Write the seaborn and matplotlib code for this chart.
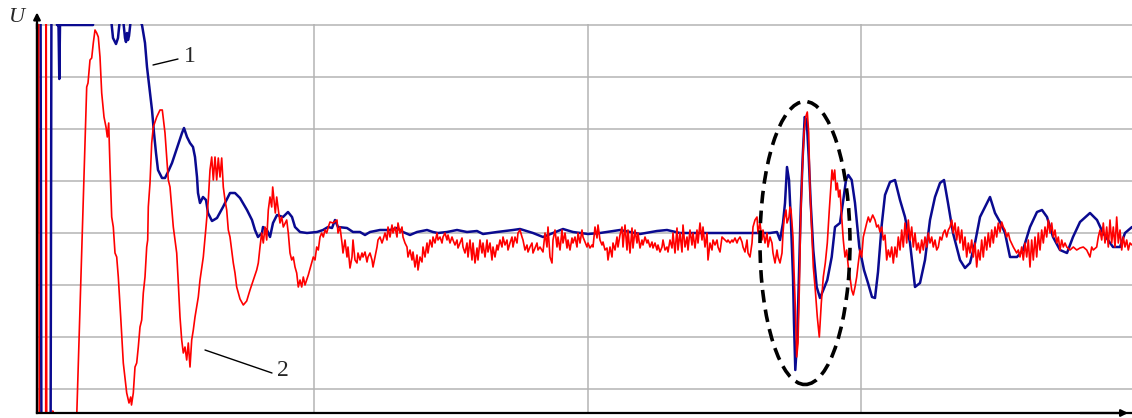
import numpy as np
import pandas as pd
import matplotlib
matplotlib.use('Agg')
import matplotlib.pyplot as plt
import seaborn as sns
from matplotlib.patches import Ellipse

# digitised signals: (time, U) pairs, U measured from the settled level,
# one grid division = 52 units
blue_transient = [
    (37, 0), (38, 260), (40.5, 260), (41.5, -260), (50.5, -260), (51.5, 260),
    (56, 260), (57, 208), (58.5, 208), (59.3, 154), (60, 208), (93, 208),
    (94, 260), (109, 260), (111, 215), (113, 195), (116, 189), (118, 195),
    (120, 215), (123, 215), (125, 195), (126, 191), (127, 200), (128, 193),
    (129, 197), (131, 215), (139, 215), (142, 208), (145, 190), (147, 166),
    (150, 140), (152, 123), (154, 100), (156, 80), (158, 63), (162, 55),
    (165, 55), (168, 61), (172, 70), (177, 85), (182, 100), (184, 105),
    (187, 96), (190, 90), (193, 86), (195, 76), (197, 56), (198, 40),
    (200, 30), (203, 36), (206, 33), (208, 20), (212, 12), (217, 15),
    (223, 26), (230, 40), (235, 40), (240, 35), (247, 23), (252, 13),
    (255, 3), (258, -4), (262, 0), (263, 6), (267, 3), (270, -4), (273, 10),
    (277, 18), (283, 16), (288, 21), (292, 16), (295, 6), (300, 1),
]
blue_quiet = [
    (307, 0), (317, 1), (323, 3), (328, 6), (332, 5), (335, 13), (338, 6),
    (347, 5), (353, 1), (360, 1), (365, -2), (370, 1), (380, 3), (390, 3),
    (397, 5), (403, 1), (410, -2), (417, 1), (427, 3), (433, 1), (438, 0),
    (447, 1), (457, 3), (467, 1), (477, 2), (483, -1), (497, 1), (513, 3),
    (520, 4), (533, 0), (543, -4), (553, 0), (563, 4), (573, 1), (588, -1),
    (600, 0), (620, 3), (640, -1), (657, 2), (667, 3), (680, 0), (707, 0),
    (727, 0), (747, 0), (770, 0), (777, 1),
]
blue_burst = [
    (780, -7), (783, 10), (785, 30), (787, 66), (789, 53), (791, 10),
    (793, -44), (794, -90), (795.3, -137), (797.3, -104), (799.3, -30),
    (800.7, 23), (802.7, 76), (804.7, 116), (806.7, 113), (808.7, 76),
    (810.7, 30), (813.3, -17), (816.7, -54), (820, -65), (823.3, -57),
    (827.3, -47), (831.7, -24), (835, 6), (840, 10), (843.3, 33), (846, 53),
    (848.3, 58), (851.7, 53), (855, 30), (859.3, -14), (864, -37),
    (868, -50), (872, -64), (875, -65), (878, -39), (881.7, 8), (885, 38),
]
blue_tail = [
    (890, 51), (895, 53), (900, 33), (905, 16), (910, -10), (915, -54),
    (920, -50), (925, -27), (930, 13), (935, 36), (940, 50), (944, 53),
    (948, 30), (953, 0), (960, -27), (965, -35), (970, -30), (975, -10),
    (980, 16), (985, 26), (990, 36), (995, 20), (1000, 11), (1005, 0),
    (1010, -24), (1017, -24), (1023, -17), (1030, 6), (1037, 21), (1042, 23),
    (1047, 16), (1053, -4), (1060, -17), (1067, -20), (1073, -4), (1080, 11),
    (1090, 20), (1097, 13), (1103, 0), (1113, -14), (1120, -14), (1125, 0),
    (1132, 6),
]

red_transient = [
    (36.8, -12), (37.6, 260), (38.6, 260), (39.4, -260), (45.6, -260),
    (46.2, 260), (46.8, -260), (52.3, -260), (52.8, -178), (53.3, -260),
    (76, -260), (76.7, -184), (86.7, 146), (88, 150), (90, 173), (91.7, 175),
    (93.3, 190), (95, 203), (96.7, 200), (98.3, 196), (100, 176),
    (101.7, 140), (104, 116), (106, 106), (107.3, 96), (108.7, 110),
    (110, 66), (111.7, 16), (113.3, 6), (115, -20), (116.7, -24),
    (118.3, -44), (120.7, -84), (123.3, -130), (126.7, -160), (129, -170),
    (130.7, -164), (131.5, -172), (133.3, -160), (135, -134), (136.7, -130),
    (138.3, -114), (140, -94), (141.7, -87), (143.3, -60), (145, -44),
    (146.7, -14), (147.7, -7), (148.3, 26), (150, 50), (151.7, 90),
    (153.3, 106), (156.7, 116), (160, 123), (162.3, 123), (165, 100),
    (166.7, 76), (168.3, 53), (170, 46), (173.3, 6), (176.7, -20),
    (178.3, -50), (180, -84), (181.7, -107), (183.3, -120), (185, -114),
    (186.7, -127), (188.3, -110), (190, -134), (191.7, -107), (193.3, -97),
    (195, -84), (198.3, -64), (200, -47), (203.3, -24), (206, 6),
    (208.3, 33), (210, 63), (211.7, 76), (213.3, 53), (215, 76),
    (216.7, 53), (218.3, 75), (220, 56), (221.7, 75), (223.3, 46),
    (225, 33), (226.7, 23), (228.3, 3), (230, -4), (231.7, -17),
    (233.3, -30), (235, -40), (236.7, -54), (238.3, -60), (240, -66),
    (243.3, -72), (246.7, -68), (250, -57), (253.3, -47), (256.7, -37),
    (258.3, -30), (260, -14), (261.7, 0), (263.3, -10), (265, 6),
    (266.7, -7), (268.3, 23), (270, 36), (271.7, 26), (272.7, 46),
    (274, 33), (275.3, 20), (276.7, 36), (278.3, 23), (280, 10),
    (281.7, 16), (283.3, 6), (286.7, 13), (288.3, 0), (290, -20),
    (291.7, -27), (293.3, -24), (295, -34), (296.7, -40), (298.3, -54),
    (300, -47), (301.7, -54), (303.3, -44), (305, -52), (306.7, -47),
    (308.3, -42), (311.7, -30), (313.3, -24), (315, -27), (316.7, -14),
    (318.3, -17), (320, -4), (321.7, 0), (323.3, -4), (325, 3),
    (326.7, 0), (328.3, 6),
]
red_noise_a = [
    (330, 11), (333, 10), (337, 13), (338, 0), (340, 6), (342, -10),
    (343, -20), (345, -7), (347, -24), (348, -14), (350, -35), (352, -24),
    (353, -7), (355, -27), (357, -30), (358, -20), (360, -27), (362, -20),
    (363, -24), (365, -19), (367, -29), (368, -24), (370, -20), (372, -27),
    (373, -34), (375, -24), (377, -14), (378, -7), (380, -4), (382, -10),
    (383, -7), (385, 0), (387, -7), (388, 6), (390, -4), (392, 8), (393, 0),
    (395, 6), (397, -4), (398, 10), (400, 0), (402, 6), (403, -4),
    (405, -10), (407, -14), (408, -24), (410, -17), (412, -27), (413, -19),
    (415, -34), (417, -22), (418, -37), (420, -24), (422, -29), (423, -14),
    (425, -24), (427, -10), (428, -20), (430, -7), (432, -14), (433, -4),
    (435, -10), (437, 0), (438, -7), (440, -4), (442, -10), (443, -4),
    (445, 0), (447, -7), (448, -2), (450, -10), (452, -4), (453, -7),
    (455, -12), (457, -7), (458, -15), (460, -10), (462, -5), (463, -14),
    (465, -20), (467, -10), (468, -24), (470, -7), (472, -27), (473, -10),
    (475, -30), (477, -15), (478, -27), (480, -7), (482, -20), (483, -10),
    (485, -24), (487, -7), (488, -19), (490, -10), (492, -27), (493, -14),
    (495, -24), (497, -12), (498, -17), (500, -7), (502, -14), (503, -4),
    (505, -12), (507, -7), (508, -17), (510, -10), (512, -4), (513, -14),
    (515, -4), (517, -10), (518, 0), (520, 3), (522, -4), (523, -7),
    (525, -17), (527, -12), (528, -19), (530, -14), (532, -10), (533, -20),
    (535, -15), (537, -10), (538, -17), (540, -14),
]
red_noise_b = [
    (543, -19), (545, 0), (547, -14), (548, 6), (550, -24), (552, -30),
    (553, -7), (555, 3), (557, -14), (558, -4), (560, -17), (562, 3),
    (563, -10), (565, 0), (567, -15), (568, -7), (570, -17), (572, -5),
    (573, -10), (575, -4), (577, -14), (578, 0), (580, -10), (582, 3),
    (583, -4), (585, -9), (587, -14), (588, -10), (590, -15), (592, -12),
    (593, -14), (595, 6), (597, -5), (598, 8), (600, -7), (602, -12),
    (603, -9), (605, -17), (607, -15), (608, -27), (610, -14), (612, -24),
    (613, -10), (615, -17), (617, -4), (618, -14), (620, -2), (622, 6),
    (623, -14), (625, 8), (627, -17), (628, 3), (630, -20), (632, 5),
    (633, -15), (635, 3), (637, -10), (638, 0), (640, -15), (642, -7),
    (643, -12), (645, -4), (647, -10), (648, -7), (650, -14), (652, -9),
    (653, -15), (655, -10), (657, -17), (658, -12), (660, -19), (662, -14),
    (663, -7), (665, -17), (667, -14), (668, -19), (670, -7), (672, -15),
    (673, 0), (675, -20), (677, 5), (678, -17), (680, 0), (682, -19),
    (683, 8), (685, -14), (687, -4), (688, -17), (690, 3), (692, -12),
    (693, 0), (695, -15), (697, 3), (698, -10), (700, 10), (702, -7),
    (703, 6), (705, -14), (707, 0), (708, -27), (710, -10), (712, -17),
    (713, -7), (715, -12), (717, -7), (718, -14), (720, -19), (722, -4),
    (723, -5), (725, -7), (727, -9), (728, -7), (730, -10), (732, -7),
    (733, -9), (735, -5), (737, -10), (738, -7), (740, -4), (742, -9),
    (743, -14), (745, -19), (747, -7), (748, -20), (750, -24), (752, -10),
]
red_burst = [
    (753, 6), (755, 13), (757, 16), (758, 0), (760, 10), (762, -7),
    (763, 3), (765, -10), (767, 0), (768, -14), (770, -4), (772, -10),
    (773, -20), (775, -30), (777, -17), (778, -24), (780, -30), (782, -20),
    (783, 0), (784, 13), (786, 23), (787, 10), (789, 16), (790, 26),
    (791, 23), (793, -4), (794, -37), (795.3, -74), (796.7, -124),
    (798, -110), (799.3, -57), (800.7, 16), (802.3, 63), (804, 100),
    (805.7, 116), (807.3, 121), (808.7, 100), (810, 43), (811.7, 3),
    (813.3, -34), (815.3, -57), (817.3, -84), (819.3, -104), (821.3, -70),
    (823.3, -44), (825.3, -30), (827.3, -10), (829.3, 23), (830.7, 43),
    (832, 63), (833.3, 53), (834.7, 63), (836, 43), (837.3, 50),
    (838.7, 36), (840, 43), (841.7, 16), (843.3, -7), (845, -24),
    (846.7, -17), (848.3, -34), (850, -44), (851.7, -57), (853.3, -62),
    (855, -54), (856.7, -44), (858.3, -30), (860, -17), (861.7, -24),
    (863.3, -4), (865, 3), (866.7, 10), (868.3, 16), (870, 11),
    (872.7, 18), (875, 13), (876.7, 6), (878.3, 8), (880, 1), (881.7, 6),
]
red_tail = [
    (883.3, -7), (885, -2), (886.7, -27), (888.3, -17), (890, -24),
    (891.7, -14), (893.3, -30), (895, -14), (896.7, -24), (898.3, -4),
    (900, -17), (901.7, 3), (903.3, -14), (905, 10), (906.7, -10),
    (908.3, 13), (910, -7), (911.7, 6), (913.3, -14), (915, 0),
    (916.7, -17), (918.3, -10), (920, -20), (921.7, -7), (923.3, -17),
    (925, -4), (926.7, -14), (928.3, 0), (930, -10), (931.7, -4),
    (933.3, -14), (935, -7), (936.7, -17), (938.3, -14), (940, -4),
    (941.7, -7), (943.3, 0), (945, 3), (946.7, -4), (948.3, 3), (950, 6),
    (951.7, 13), (953.3, 0), (955, 10), (956.7, -7), (958.3, 6), (960, -10),
    (961.7, 3), (963.3, -17), (965, -4), (966.7, -24), (968.3, -10),
    (970, -20), (971.7, -7), (973.3, -24), (975, -10), (976.7, -34),
    (978.3, -17), (980, -27), (981.7, -7), (983.3, -24), (985, -4),
    (986.7, -17), (988.3, 0), (990, -14), (991.7, 3), (993.3, -10),
    (995, 6), (996.7, -4), (998.3, 10), (1000, 1), (1001.7, 11),
    (1003.3, 6), (1005, 3), (1006.7, -4), (1008.3, 0), (1010, -7),
    (1013.3, -14), (1016.7, -20), (1018.3, -17), (1020, -24), (1021.7, -14),
    (1023.3, -27), (1025, -10), (1026.7, -24), (1028.3, -7), (1030, -34),
    (1031.7, -7), (1033.3, -27), (1035, -4), (1036.7, -24), (1038.3, 0),
    (1040, -17), (1041.7, 3), (1043.3, -10), (1045, 6), (1046.7, -4),
    (1048.3, 13), (1050, 0), (1051.7, 10), (1053.3, -4), (1055, 3),
    (1056.7, -10), (1058.3, -4), (1060, -17), (1061.7, -7), (1063.3, -14),
    (1065, -10), (1066.7, -14), (1070, -17), (1073.3, -14), (1076.7, -17),
    (1080, -15), (1083.3, -14), (1086.7, -17), (1090, -24), (1091.7, -14),
    (1093.3, -17), (1096.7, -14), (1098.3, -4), (1100, 3), (1101.7, -7),
    (1103.3, 10), (1105, -10), (1106.7, 6), (1108.3, -14), (1110, 13),
    (1111.7, -10), (1113.3, 6), (1115, -14), (1116.7, 16), (1118.3, -10),
    (1120, 3), (1121.7, -17), (1123.3, -4), (1125, -14), (1126.7, -7),
    (1128.3, -17), (1130, -10), (1132, -12),
]

blue = pd.DataFrame(blue_transient + blue_quiet + blue_burst + blue_tail, columns=['t', 'U'])
red = pd.DataFrame(red_transient + red_noise_a + red_noise_b + red_burst + red_tail, columns=['t', 'U'])

sns.set_style('white')
plt.rcParams['font.family'] = ['Liberation Serif', 'DejaVu Serif']

fig = plt.figure(figsize=(11.32, 4.18), dpi=100)
ax = fig.add_axes([37 / 1132, 5 / 418, 1095 / 1132, 389 / 418])

sns.lineplot(x='t', y='U', data=blue, ax=ax, color='#0a0a90', lw=1.8,
             sort=False, estimator=None, zorder=3)
sns.lineplot(x='t', y='U', data=red, ax=ax, color='#ff0000', lw=1.2,
             sort=False, estimator=None, zorder=4)

ax.set_xlim(37, 1132)
ax.set_ylim(-180, 209)
ax.set_xticks([314, 588, 861])
ax.set_yticks(np.arange(-156, 209, 52))
ax.grid(True, color='#b4b4b4', lw=1.1)
ax.tick_params(length=0, labelbottom=False, labelleft=False)
ax.set_xlabel('')
ax.set_ylabel('')
for side in ['top', 'right']:
    ax.spines[side].set_visible(False)
for side in ['left', 'bottom']:
    ax.spines[side].set_color('black')
    ax.spines[side].set_linewidth(1.6)
    ax.spines[side].set_zorder(6)

# axis arrows
ax.annotate('', xy=(0, 1.037), xytext=(0, 0.98), xycoords='axes fraction',
            arrowprops=dict(arrowstyle='-|>', color='black', lw=1.6, mutation_scale=10),
            annotation_clip=False)
ax.plot([0, 0], [0, 1.0], transform=ax.transAxes, color='black', lw=1.6, clip_on=False, zorder=6)
ax.annotate('', xy=(0.999, 0), xytext=(0.95, 0), xycoords='axes fraction',
            arrowprops=dict(arrowstyle='-|>', color='black', lw=1.6, mutation_scale=10),
            annotation_clip=False)

fig.text(17 / 1132, 1 - 18 / 418, 'U', style='italic', fontsize=16, ha='center', va='center')

# curve labels
ax.plot([153, 178], [168, 174], color='black', lw=1.0, zorder=5)
ax.text(184, 176, '1', fontsize=17, ha='left', va='center')
ax.plot([205, 272], [-117, -140], color='black', lw=1.0, zorder=5)
ax.text(277, -137, '2', fontsize=17, ha='left', va='center')

ax.add_patch(Ellipse((805, -10), 90, 283, fill=False, edgecolor='black', lw=2.6,
                     linestyle=(0, (3.5, 2)), zorder=7))

fig.savefig('out.png', dpi=100)
